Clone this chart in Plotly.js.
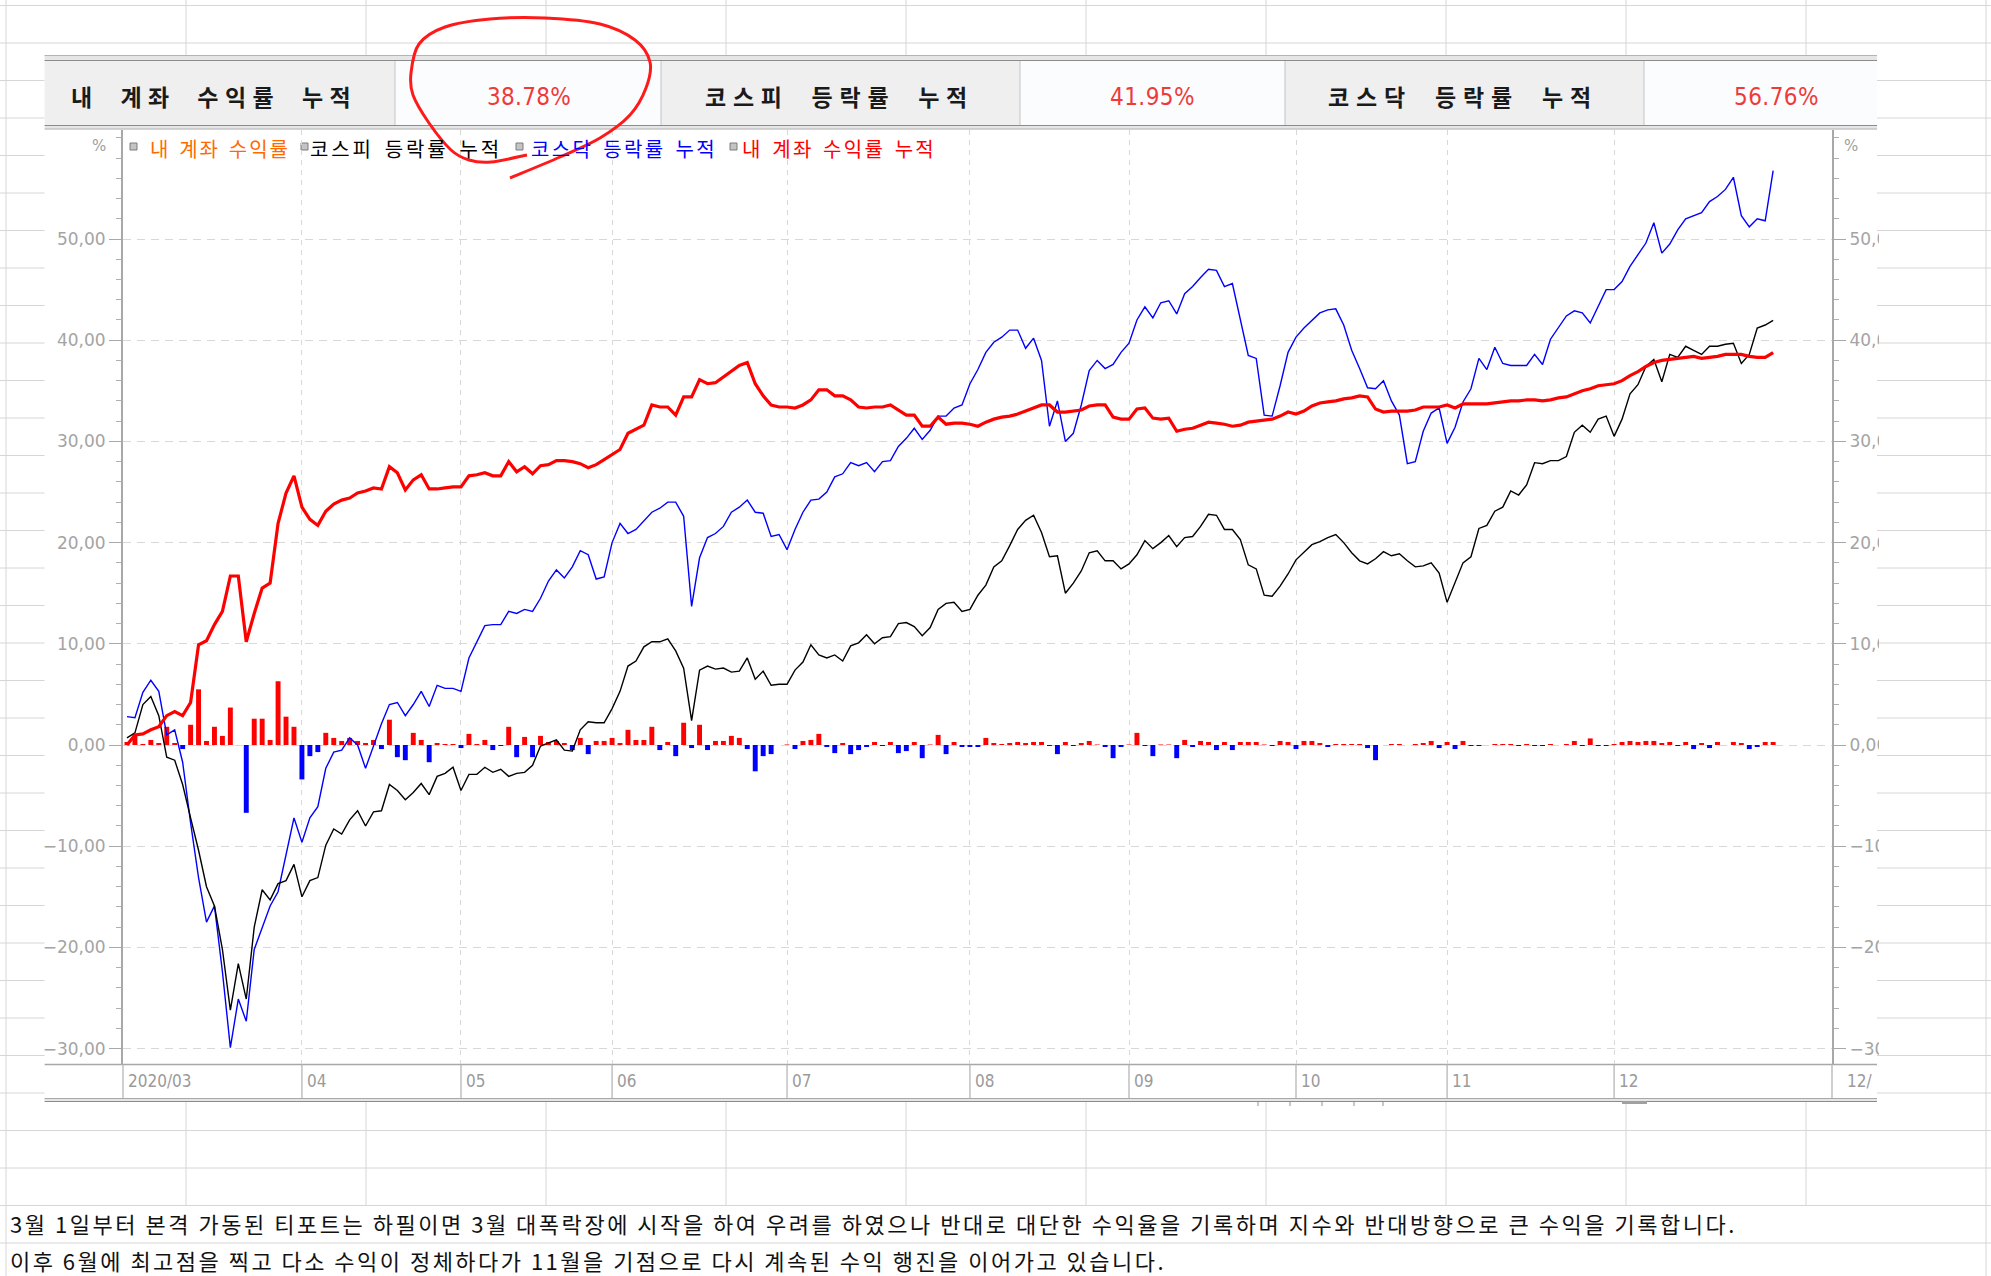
<!DOCTYPE html>
<html><head><meta charset="utf-8">
<script src="https://cdn.plot.ly/plotly-3.0.1.min.js"></script>
<style>html,body{margin:0;padding:0;background:#fff;overflow:hidden}#chart{width:1991px;height:1276px}</style>
</head><body><div id="chart"></div>
<script>
// ---------------- data ----------------
const monthLabels = ['2020/03','04','05','06','07','08','09','10','11','12'];
const monthStart  = [0,22,42,61,83,106,126,147,166,187];   // trading-day index of each month's first session

const accountCum = [
 0.0,1.0,1.1,1.5,1.8,2.9,3.3,2.9,4.2,9.9,
 10.3,11.9,13.2,16.7,16.7,10.2,13.0,15.5,16.0,21.9,
 24.9,26.6,23.5,22.3,21.7,23.1,23.8,24.2,24.4,24.9,
 25.1,25.4,25.3,27.5,26.9,25.2,26.2,26.7,25.3,25.3,
 25.4,25.5,25.5,26.6,26.7,26.9,26.6,26.6,28.0,27.0,
 27.5,26.8,27.6,27.7,28.1,28.1,28.0,27.8,27.4,27.7,
 28.2,28.7,29.2,30.8,31.2,31.6,33.6,33.4,33.4,32.6,
 34.4,34.4,36.1,35.7,35.8,36.4,37.0,37.5,37.8,35.7,
 34.5,33.6,33.4,33.4,33.3,33.6,34.1,35.1,35.1,34.5,
 34.5,34.1,33.4,33.3,33.4,33.4,33.6,33.1,32.6,32.6,
 31.5,31.5,32.4,31.7,31.8,31.8,31.7,31.5,31.9,32.2,
 32.4,32.5,32.7,33.0,33.3,33.6,33.6,32.9,32.9,33.0,
 33.1,33.5,33.6,33.6,32.4,32.2,32.2,33.2,33.3,32.3,
 32.2,32.3,31.0,31.2,31.3,31.6,31.9,31.8,31.7,31.5,
 31.6,31.9,32.0,32.1,32.2,32.5,32.9,32.7,33.0,33.5,
 33.8,33.9,34.0,34.2,34.3,34.5,34.4,33.2,32.9,33.0,
 33.0,33.0,33.1,33.4,33.4,33.4,33.6,33.3,33.7,33.7,
 33.7,33.7,33.8,33.9,34.0,34.0,34.1,34.1,34.0,34.1,
 34.3,34.4,34.7,35.0,35.2,35.5,35.6,35.7,36.0,36.5,
 36.9,37.4,37.8,38.0,38.1,38.2,38.3,38.4,38.2,38.3,
 38.4,38.6,38.6,38.6,38.4,38.3,38.3,38.78];

const kospiCum = [
 0.7,1.2,4.0,4.8,2.9,-1.2,-1.5,-3.9,-7.2,-10.4,
 -14.0,-15.9,-20.2,-26.2,-21.6,-25.1,-18.0,-14.3,-15.3,-13.7,
 -13.4,-11.8,-15.0,-13.4,-13.1,-9.9,-8.3,-8.8,-7.4,-6.5,
 -8.0,-6.6,-6.5,-3.9,-4.5,-5.4,-4.7,-3.8,-4.9,-3.1,
 -2.8,-2.2,-4.5,-2.9,-2.9,-2.2,-2.7,-2.4,-3.1,-2.8,
 -2.7,-2.0,-0.1,0.2,0.5,-0.5,-0.6,1.5,2.3,2.2,
 2.2,3.6,5.3,7.8,8.3,9.7,10.2,10.2,10.5,9.3,
 7.6,2.4,7.4,7.8,7.5,7.6,7.2,7.3,8.6,6.5,
 7.3,5.9,6.0,6.0,7.4,8.2,9.9,8.9,8.6,8.9,
 8.3,9.8,10.1,10.9,10.0,10.6,10.7,12.0,12.1,11.7,
 10.8,11.6,13.4,14.0,14.1,13.2,13.4,14.8,15.8,17.6,
 18.2,19.7,21.3,22.2,22.7,21.0,18.6,18.7,15.0,16.0,
 17.2,19.0,19.2,18.2,18.2,17.4,17.9,18.8,20.2,19.4,
 20.0,20.7,19.6,20.5,20.6,21.6,22.8,22.7,21.3,21.3,
 20.3,17.8,17.4,14.8,14.7,15.7,16.9,18.3,19.0,19.8,
 20.1,20.5,20.8,20.0,19.0,18.2,17.9,18.4,19.1,18.7,
 18.9,18.2,17.6,17.7,18.0,17.0,14.1,16.0,18.0,18.6,
 21.4,21.7,23.1,23.5,25.1,24.7,25.7,27.9,27.8,28.1,
 28.1,28.5,30.9,31.6,30.9,32.2,32.5,30.5,32.2,34.7,
 35.6,37.4,38.1,35.9,38.6,38.3,39.4,39.0,38.6,39.4,
 39.4,39.6,39.7,37.7,38.6,41.2,41.5,41.95];

const kosdaqCum = [
 2.8,2.7,5.2,6.4,5.3,1.0,1.5,-1.7,-7.7,-13.1,
 -17.5,-15.9,-22.4,-29.9,-25.1,-27.3,-20.2,-18.0,-15.9,-14.5,
 -11.0,-7.2,-9.6,-7.2,-6.1,-2.3,-0.7,-0.5,0.7,0.0,
 -2.3,-0.1,2.1,4.0,4.2,2.9,4.0,5.3,3.8,5.9,
 5.6,5.6,5.3,8.6,10.2,11.8,11.9,11.9,13.2,13.0,
 13.4,13.2,14.5,16.2,17.3,16.5,17.6,19.2,18.8,16.4,
 16.6,20.0,21.9,20.9,21.3,22.2,23.0,23.4,24.0,24.0,
 22.6,13.7,18.5,20.5,20.9,21.6,23.0,23.5,24.2,23.0,
 22.9,20.6,20.8,19.3,21.3,23.0,24.2,24.3,25.0,26.5,
 26.8,27.9,27.6,27.9,27.0,28.0,28.1,29.5,30.3,31.3,
 30.2,31.1,32.5,32.5,33.3,33.6,35.7,37.1,38.8,39.8,
 40.3,41.0,41.0,39.2,40.2,38.0,31.5,34.0,30.0,30.8,
 33.6,37.0,38.0,37.2,37.6,38.8,39.7,42.0,43.3,42.2,
 43.7,43.9,42.6,44.6,45.3,46.2,47.0,46.9,45.3,45.6,
 42.2,38.5,38.2,32.6,32.5,35.5,38.8,40.3,41.2,42.0,
 42.7,43.0,43.1,41.5,39.0,37.2,35.3,35.2,36.0,34.0,
 32.6,27.8,28.0,31.0,32.8,33.3,29.8,31.4,33.9,35.2,
 38.2,37.1,39.3,37.7,37.5,37.5,37.5,38.6,37.6,40.1,
 41.2,42.4,42.9,42.7,41.7,43.4,45.0,45.0,45.8,47.3,
 48.5,49.6,51.6,48.6,49.5,50.9,52.0,52.3,52.6,53.7,
 54.2,54.9,56.1,52.3,51.2,52.0,51.8,56.76];

const accountDaily = [
 0.3,1.1,0.1,0.5,0.2,1.8,0.2,-0.4,2.0,5.5,
 0.4,1.8,0.9,3.7,0.0,-6.7,2.6,2.6,0.5,6.3,
 2.8,1.8,-3.4,-1.1,-0.7,1.2,0.7,0.4,0.7,0.4,
 0.2,0.5,-0.4,2.5,-1.2,-1.5,1.2,0.5,-1.7,0.2,
 0.1,0.1,-0.3,1.1,0.1,0.5,-0.5,-0.1,1.8,-1.2,
 0.8,-1.2,0.9,0.3,0.4,0.2,-0.5,0.7,-0.9,0.4,
 0.4,0.7,0.2,1.5,0.5,0.5,1.8,-0.5,0.3,-1.1,
 2.2,-0.3,2.0,-0.5,0.4,0.4,0.9,0.7,-0.4,-2.6,
 -1.1,-0.9,0.0,0.05,-0.4,0.4,0.5,1.1,-0.2,-0.8,
 0.2,-0.9,-0.5,-0.2,0.3,-0.1,0.3,-0.8,-0.6,0.3,
 -1.3,0.05,1.0,-0.9,0.3,-0.2,-0.2,-0.2,0.7,0.2,
 0.1,0.2,0.3,0.2,0.3,0.3,-0.1,-0.9,0.3,-0.1,
 0.2,0.4,0.05,-0.2,-1.3,-0.2,0.05,1.2,-0.1,-1.1,
 0.05,0.05,-1.3,0.5,-0.2,0.4,0.3,-0.5,0.3,-0.5,
 0.3,0.3,0.3,0.05,-0.1,0.4,0.3,-0.4,0.4,0.4,
 0.2,-0.2,0.1,0.1,0.1,0.1,-0.3,-1.5,0.0,0.1,
 0.1,0.0,0.1,0.2,0.4,-0.3,0.3,-0.4,0.4,-0.1,
 -0.1,0.0,0.1,0.1,0.1,-0.1,0.1,-0.1,-0.1,0.1,
 0.0,0.1,0.4,-0.1,0.65,-0.1,-0.1,0.1,0.3,0.4,
 0.3,0.4,0.4,0.2,0.3,-0.1,0.3,-0.4,0.2,-0.3,
 0.3,0.0,0.3,0.2,-0.4,-0.2,0.3,0.3];

const yTickVals  = [-30,-20,-10,0,10,20,30,40,50];
const yTickText  = ['−30,00','−20,00','−10,00','0,00','10,00','20,00','30,00','40,00','50,00'];
const headerLabels = ['내 계좌 수익률 누적','코스피 등락률 누적','코스닥 등락률 누적'];
const headerValues = ['38.78%','41.95%','56.76%'];
const legendNames  = ['내 계좌 수익률','코스피 등락률 누적','코스닥 등락률 누적','내 계좌 수익률 누적'];
const legendColors = ['#ff6a00','#000000','#0000ff','#ff0000'];
const noteLines = [
 '3월 1일부터 본격 가동된 티포트는 하필이면 3월 대폭락장에 시작을 하여 우려를 하였으나 반대로 대단한 수익율을 기록하며 지수와 반대방향으로 큰 수익을 기록합니다.',
 '이후 6월에 최고점을 찍고 다소 수익이 정체하다가 11월을 기점으로 다시 계속된 수익 행진을 이어가고 있습니다.'];

// ---------------- layout helpers (pixel -> paper) ----------------
const L = 123, R = 1832, T = 130, B = 1064;
const px = v => (v - L) / (R - L);
const py = v => (B - v) / (B - T);
const idx = accountCum.map((_, i) => i);

const shapes = [];
function line(x0, y0, x1, y1, color, w, layer, refx) {
  shapes.push({type:'line', xref: refx || 'paper', yref:'paper',
    x0: refx ? x0 : px(x0), x1: refx ? x1 : px(x1), y0: py(y0), y1: py(y1),
    line:{color:color, width:w}, layer: layer || 'below'});
}
function rect(x0, y0, x1, y1, fill, lc, lw, layer) {
  shapes.push({type:'rect', xref:'paper', yref:'paper', x0:px(x0), x1:px(x1), y0:py(y1), y1:py(y0),
    fillcolor: fill, line:{color: lc || 'rgba(0,0,0,0)', width: lw || 0}, layer: layer || 'below'});
}

// spreadsheet grid behind everything
const gridC = '#d6d6d6';
const colX = []; for (let j = 0; j <= 11; j++) colX.push(6 + 180 * j);
const rowY = []; for (let k = 0; k <= 33; k++) rowY.push(5.5 + 37.5 * k);
rowY.forEach(y => line(0, y, 1991, y, gridC, 1));
colX.forEach((x, j) => line(x, 0, x, (j === 0 || j === 11) ? 1276 : 1206, gridC, 1));

// chart window
rect(44.6, 55, 1877, 1102, '#ffffff');
// header band
rect(44.6, 55, 1877, 61, '#e6e6e6');
line(44.6, 55.5, 1877, 55.5, '#b4b4b4', 1);
line(44.6, 60.5, 1877, 60.5, '#8c8c8c', 1);
const cellEdges = [44.6, 395, 661, 1020, 1285, 1644, 1877];
for (let c = 0; c < 6; c++) rect(cellEdges[c], 61, cellEdges[c+1], 125, c % 2 === 0 ? '#efefef' : '#fafcfe');
cellEdges.slice(1, 6).forEach(x => line(x, 61, x, 125, '#c4c4c4', 1));
rect(44.6, 125, 1877, 129.5, '#e6e6e6');
line(44.6, 125.5, 1877, 125.5, '#8c8c8c', 1.2);
line(44.6, 129, 1877, 129, '#b4b4b4', 1);
// x label row
line(44.6, 1064.5, 1877, 1064.5, '#a8a8a8', 1.5);
rect(44.6, 1098, 1877, 1102, '#e6e6e6');
line(44.6, 1098.5, 1877, 1098.5, '#a8a8a8', 1);
line(44.6, 1101.5, 1877, 1101.5, '#8c8c8c', 1);
line(L, 1064, L, 1098, '#b0b0b0', 1.2);
line(R, 1064, R, 1098, '#b0b0b0', 1.2);
monthStart.slice(1).forEach(m => line(m, 1064, m, 1098, '#b0b0b0', 1.2, 'below', 'x'));
// small scroll remnants under the label row
[1258, 1290, 1322, 1354, 1383].forEach(x => line(x, 1102, x, 1106, '#909090', 1));
rect(1622, 1101, 1647, 1104, '#a0a0a0');
// legend squares
const legSqX = [130, 301, 516, 730];
legSqX.forEach(x => rect(x, 143, x + 7, 150, '#c4c4c4', '#7c7c7c', 1));
// right strip: spreadsheet visible beyond chart window (clips right tick labels)
rect(1879, 55, 1991, 1102, '#ffffff', null, 0, 'above');
rowY.filter(y => y > 55 && y < 1102).forEach(y => line(1879, y, 1991, y, gridC, 1, 'above'));
line(1986, 55, 1986, 1102, gridC, 1, 'above');

// hand-drawn red circle
const circ = [[527,155],[491,162],[469,160],[451,150],[429,123],[413,95],[411,73],[419,44],[445,27],[490,19],
  [545,18],[600,24],[635,40],[650,62],[646,88],[630,115],[600,138],[560,157],[510,178]];
function smooth(pts) {
  const p = pts.map(q => [px(q[0]), py(q[1])]);
  let d = 'M' + p[0][0] + ',' + p[0][1];
  for (let i = 0; i < p.length - 1; i++) {
    const p0 = p[i-1] || p[i], p1 = p[i], p2 = p[i+1], p3 = p[i+2] || p2;
    const c1 = [p1[0] + (p2[0]-p0[0])/6, p1[1] + (p2[1]-p0[1])/6];
    const c2 = [p2[0] - (p3[0]-p1[0])/6, p2[1] - (p3[1]-p1[1])/6];
    d += ' C' + c1[0] + ',' + c1[1] + ' ' + c2[0] + ',' + c2[1] + ' ' + p2[0] + ',' + p2[1];
  }
  return d;
}
shapes.push({type:'path', xref:'paper', yref:'paper', path: smooth(circ), line:{color:'#ff1a1a', width:3}, layer:'above'});

// ---------------- annotations ----------------
const ann = [], fits = [];
function text(t, cx, cy, font, extra) {
  ann.push(Object.assign({xref:'paper', yref:'paper', x:px(cx), y:py(cy), text:t, showarrow:false,
    xanchor:'center', yanchor:'middle', font:font}, extra || {}));
  return ann.length - 1;
}
function fitText(t, left, right, cy, font, wordRatio) {
  const i = text(t, (left + right) / 2, cy, font);
  fits.push({i:i, left:left, right:right, ratio: wordRatio || 0});
}
const kr = 'Noto Sans CJK KR, sans-serif';
const hdrSpans = [[71,357],[705,974],[1328,1598]];
const valSpans = [[487,571],[1110,1195],[1734,1819]];
headerLabels.forEach((t, i) => fitText(t, hdrSpans[i][0], hdrSpans[i][1], 96, {family:kr, size:23, color:'#1a1a1a', weight:700}, 1.6));
headerValues.forEach((t, i) => fitText(t, valSpans[i][0], valSpans[i][1], 97, {family:'DejaVu Sans Condensed, Liberation Sans Narrow, sans-serif', size:24, color:'#f03a3a'}));
const legSpans = [[150,290],[310,502],[531,717],[742,936]];
legendNames.forEach((t, i) => fitText(t, legSpans[i][0], legSpans[i][1], 148, {family:kr, size:20, color:legendColors[i]}, 1.2));
text('%', 99, 146, {family:'DejaVu Sans, sans-serif', size:15, color:'#a0a0a0'});
text('%', 1851, 146, {family:'DejaVu Sans, sans-serif', size:15, color:'#a0a0a0'});
monthLabels.forEach((t, i) => ann.push({xref:'x', yref:'paper', x: i === 0 ? -0.5 : monthStart[i], y: py(1081),
  text:t, showarrow:false, xanchor:'left', yanchor:'middle', xshift:3,
  font:{family:'DejaVu Sans Condensed, sans-serif', size:17, color:'#9a9a9a'}}));
ann.push({xref:'paper', yref:'paper', x:1, y:py(1081), text:'12/', showarrow:false, xanchor:'left', yanchor:'middle', xshift:13,
  font:{family:'DejaVu Sans Condensed, sans-serif', size:17, color:'#9a9a9a'}});
const noteSpans = [[10,1737],[10,1166]];
noteLines.forEach((t, i) => fitText(t, noteSpans[i][0], noteSpans[i][1], 1223 + 37 * i, {family:kr, size:22, color:'#111111'}));

// ---------------- traces ----------------
const traces = [
  {type:'bar', x:idx, y:accountDaily, width:0.62, yaxis:'y',
   marker:{color: accountDaily.map(v => v >= 0 ? '#ff0000' : '#0000ff'), line:{width:0}}, hoverinfo:'skip', name:legendNames[0]},
  {type:'scatter', mode:'lines', x:idx, y:kosdaqCum, line:{color:'#0000ff', width:1.4}, name:legendNames[2]},
  {type:'scatter', mode:'lines', x:idx, y:kospiCum, line:{color:'#000000', width:1.4}, name:legendNames[1]},
  {type:'scatter', mode:'lines', x:idx, y:accountCum, line:{color:'#ff0000', width:3.2}, name:legendNames[3]},
  {type:'scatter', mode:'lines', x:[], y:[], yaxis:'y2', hoverinfo:'skip', showlegend:false}
];

const yCommon = {
  range:[-31.52, 60.77], tickmode:'array', tickvals:yTickVals, ticktext:yTickText,
  ticks:'outside', ticklen:12, tickwidth:1, tickcolor:'#a8a8a8',
  showline:true, linecolor:'#a8a8a8', linewidth:2, zeroline:false,
  tickfont:{family:'DejaVu Sans, sans-serif', size:17, color:'#a4a4a4'},
  minor:{tickmode:'linear', tick0:0, dtick:2, ticks:'outside', ticklen:5, tickcolor:'#b0b0b0', showgrid:false},
  fixedrange:true
};
const layout = {
  width:1991, height:1276, margin:{l:L, r:1991-R, t:T, b:1276-B, pad:0},
  paper_bgcolor:'#ffffff', plot_bgcolor:'rgba(0,0,0,0)', showlegend:false, bargap:0.38,
  xaxis:{range:[-0.5, 214.4], tickmode:'array', tickvals:monthStart.slice(1), showticklabels:false, ticks:'',
    showgrid:true, gridcolor:'#d8d8d8', gridwidth:1, griddash:'5px,5px', zeroline:false, showline:false, fixedrange:true},
  yaxis:Object.assign({}, yCommon, {side:'left', showgrid:true, gridcolor:'#d8d8d8', gridwidth:1, griddash:'8px,6px'}),
  yaxis2:Object.assign({}, yCommon, {side:'right', overlaying:'y', matches:'y', showgrid:false}),
  shapes:shapes, annotations:ann, hovermode:false
};

function applySpacing(el, ls, ratio) {
  el.style.letterSpacing = ls + 'px';
  el.style.wordSpacing = (ls * ratio) + 'px';
}
Plotly.newPlot('chart', traces, layout, {staticPlot:true, displayModeBar:false}).then(() => {
  fits.forEach(f => {
    const el = document.querySelector('.annotation[data-index="' + f.i + '"] .annotation-text');
    if (!el) return;
    const chars = Array.from(el.textContent);
    const n = chars.length, ns = chars.filter(c => c === ' ').length;
    const w0 = el.getBoundingClientRect().width;
    const target = f.right - f.left;
    let ls = (target - w0) / Math.max(1, (n - 1) + f.ratio * ns);
    for (let it = 0; it < 3; it++) {
      applySpacing(el, ls, f.ratio);
      const E = el.getBoundingClientRect().width - w0;
      if (Math.abs(E) < 0.5 || Math.abs(ls) < 1e-6) break;
      ls *= (target - w0) / E;
    }
    applySpacing(el, ls, f.ratio);
    const r = el.getBoundingClientRect();
    el.setAttribute('transform', 'translate(' + (f.left - r.left) + ',0)');
  });
});
</script>
</body></html>
